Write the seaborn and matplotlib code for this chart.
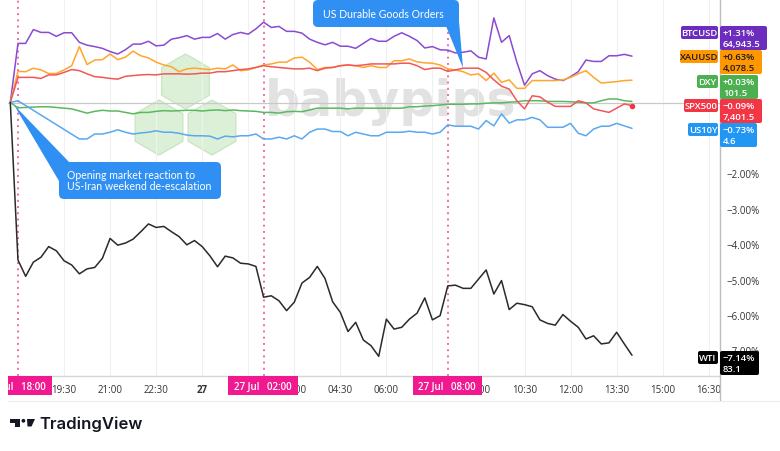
import numpy as np
import pandas as pd
import matplotlib
matplotlib.use("Agg")
import matplotlib.pyplot as plt
from matplotlib.patches import Rectangle, FancyBboxPatch, Polygon, RegularPolygon, Circle
from matplotlib.transforms import Affine2D
import seaborn as sns

nan = np.nan
# ---------------- data ----------------
series_names = ["BTCUSD", "XAUUSD", "DXY", "SPX500", "US10Y", "WTI"]

btc = [0, 1.67, 1.67, 2.06, 1.98, 1.98, 1.87, 1.97, 1.97, 1.70,
       1.62, 1.58, 1.53, 1.44, 1.37, 1.49, 1.65, 1.65, 1.73, 1.60,
       1.62, 1.79, 1.83, 1.89, 1.79, 1.84, 1.84, 1.95, 1.79, 1.92,
       1.98, 1.93, 2.08, 2.27, 2.12, 2.15, 2.01, 2.01, 1.96, 1.79,
       1.70, 1.63, 1.70, 1.59, 1.59, 1.53, 1.67, 1.81, 1.73, 1.73,
       1.87, 1.97, 1.87, 1.75, 1.54, 1.58, 1.49, 1.48, 1.40, 1.42,
       1.46, 1.28, 1.23, 2.39, 1.70, 1.89, 1.14, 0.49, 0.81, 0.90,
       0.76, 0.66, 0.62, 0.73, 0.87, 1.20, 1.16, 1.16, 1.32, 1.32,
       1.36, 1.31]

xau = [0, 0.88, 0.87, 0.97, 0.92, 0.82, 0.82, 0.92, 1.04, 1.58,
       1.07, 1.20, 1.21, 1.37, 1.21, 1.28, 1.45, 1.32, 1.26, 1.14,
       1.06, 1.01, 0.87, 0.95, 0.97, 0.95, 0.93, 0.97, 0.95, 1.06,
       0.90, 0.92, 0.99, 1.06, 1.09, 1.14, 1.14, 1.26, 1.28, 1.14,
       0.93, 0.99, 0.99, 1.04, 1.06, 1.04, 0.99, 1.04, 0.99, 0.99,
       1.18, 1.18, 1.23, 1.15, 1.12, 1.11, 1.06, 0.95, 0.92, 0.87,
       0.78, 0.81, 0.62, 0.83, 0.57, 0.64, 0.40, 0.40, 0.62, 0.62,
       0.62, 0.62, 0.64, 0.71, 0.81, 0.90, 0.71, 0.55, 0.57, 0.59,
       0.62, 0.63]

dxy = [0, -0.15, -0.14, -0.13, -0.12, -0.12, -0.14, -0.16, -0.18, -0.24,
       -0.30, -0.25, -0.22, -0.24, -0.24, -0.28, -0.32, -0.28, -0.28, -0.25,
       -0.23, -0.24, -0.23, -0.22, -0.22, -0.24, -0.22, -0.21, -0.23, -0.21,
       -0.23, -0.24, -0.25, -0.28, -0.28, -0.30, -0.26, -0.25, -0.26, -0.21,
       -0.16, -0.16, -0.16, -0.16, -0.18, -0.16, -0.16, -0.16, -0.16, -0.16,
       -0.16, -0.16, -0.12, -0.12, -0.10, -0.09, -0.07, -0.05, -0.05, -0.05,
       -0.04, -0.04, -0.02, -0.01, -0.01, 0.01, 0.02, 0.05, 0.05, 0.05,
       0.03, 0.03, 0.03, 0.02, 0.01, -0.01, -0.01, 0.05, 0.10, 0.10,
       0.05, 0.03]

spx = [0, 0.71, 0.71, 0.71, 0.68, 0.78, 0.78, 0.85, 0.93, 0.90,
       0.81, 0.73, 0.71, 0.68, 0.66, 0.74, 0.76, 0.78, 0.79, 0.78,
       0.81, 0.81, 0.81, 0.80, 0.81, 0.83, 0.83, 0.87, 0.87, 0.90,
       0.93, 0.95, 0.99, 1.04, 1.01, 0.99, 0.97, 0.95, 0.95, 0.97,
       0.90, 0.97, 0.99, 1.04, 1.06, 1.04, 1.06, 1.09, 1.09, 1.09,
       1.09, 1.11, 1.11, 1.04, 0.93, 0.97, 0.97, 0.88, 0.92, 0.97,
       0.97, 0.97, 0.85, 0.64, 0.46, 0.38, 0.05, -0.18, 0.19, 0.16,
       0.01, -0.11, -0.11, -0.11, 0.05, -0.01, -0.18, -0.23, -0.28, -0.16,
       -0.04, -0.09]

us10y = [0, 0.05, nan, nan, nan, nan, nan, nan, nan, -1.03,
         -1.03, -0.89, -0.89, -0.84, -0.77, -0.84, -0.89, -0.86, -0.84, -0.80,
         -0.84, -0.84, -0.87, -0.92, -0.94, -0.94, -0.95, -1.03, -0.95, -0.97,
         -0.94, -0.94, -0.89, -1.03, -1.03, -0.98, -1.03, -0.94, -1.03, -0.84,
         -0.75, -0.75, -0.82, -0.82, -0.94, -0.84, -0.89, -0.94, -0.94, -0.84,
         -0.84, -0.84, -0.81, -0.84, -0.84, -0.89, -0.84, -0.63, -0.67, -0.67,
         -0.67, -0.75, -0.51, -0.66, -0.32, -0.58, -0.49, -0.49, -0.42, -0.49,
         -0.70, -0.70, -0.70, -0.59, -0.87, -0.94, -0.75, -0.67, -0.67, -0.59,
         -0.66, -0.73]

wti = [0, -4.45, -4.91, -4.51, -4.37, -4.07, -4.19, -4.47, -4.59, -4.84,
       -4.70, -4.66, -4.40, -3.84, -4.03, -3.97, -3.86, -3.65, -3.43, -3.53,
       -3.50, -3.65, -3.79, -4.02, -3.90, -4.07, -4.33, -4.64, -4.34, -4.39,
       -4.54, -4.56, -4.63, -5.50, -5.46, -5.60, -5.88, -5.64, -5.10, -4.94,
       -4.63, -4.97, -5.63, -5.93, -6.47, -6.21, -6.71, -6.87, -7.17, -6.12,
       -6.40, -6.35, -6.12, -5.95, -5.52, -6.14, -6.02, -5.18, -5.16, -5.25,
       -5.25, -4.99, -4.73, -5.41, -5.03, -5.85, -5.67, -5.71, -5.77, -6.14,
       -6.24, -6.29, -5.99, -6.18, -6.35, -6.68, -6.59, -6.82, -6.79, -6.49,
       -6.82, -7.14]

times = pd.date_range("2025-07-26 17:45", periods=len(btc), freq="15min")

tag_pct = ["+1.31%", "+0.63%", "+0.03%", "\u22120.09%", "\u22120.73%", "\u22127.14%"]
tag_price = ["64,943.5", "4,078.5", "101.5", "7,401.5", "4.6", "83.1"]

xtick_times = pd.date_range("2025-07-26 19:30", "2025-07-27 16:30", freq="90min")
xtick_labels = ["19:30", "21:00", "22:30", "27", "", "03:00", "04:30", "06:00",
                "", "09:00", "10:30", "12:00", "13:30", "15:00", "16:30"]
ytick_vals = [-2, -3, -4, -5, -6, -7]
ytick_labels = ["\u22122.00%", "\u22123.00%", "\u22124.00%", "\u22125.00%", "\u22126.00%", "\u22127.00%"]

event_times = pd.to_datetime(["2025-07-26 18:00", "2025-07-27 02:00", "2025-07-27 08:00"])
event_labels = [("26 Jul", "18:00"), ("27 Jul", "02:00"), ("27 Jul", "08:00")]

line_colors = {"BTCUSD": "#8a4ad2", "XAUUSD": "#ffa62b", "DXY": "#5cb85f",
               "SPX500": "#f25757", "US10Y": "#5aa8f0", "WTI": "#2a2a2a"}
tag_colors = ["#6c2dbf", "#ff9800", "#4caf50", "#f23645", "#2196f3", "#000000"]
tag_text = ["white", "#1b1b1b", "white", "white", "white", "white"]

# ---------------- figure ----------------
sns.set_style("white")
plt.rcParams['font.family'] = ['Open Sans', 'DejaVu Sans']

W, H = 780, 452
fig = plt.figure(figsize=(W / 100, H / 100), dpi=100)
fig.patch.set_facecolor("white")
ax = fig.add_axes([8 / W, 1 - 377 / H, 712 / W, 377 / H])
ax.patch.set_alpha(0)
px = Affine2D().scale(1 / W, -1 / H).translate(0, 1) + fig.transFigure

# watermark (behind axes)
for cx, cy in [(185.5, 82.5), (159, 128.5), (212, 128.5)]:
    fig.patches.append(RegularPolygon((cx, cy), numVertices=6, radius=27.5,
                                      transform=px, facecolor="#dcf0d7", edgecolor="#cbe6c4",
                                      lw=1.0, zorder=-2))
fig.text(265 / W, 1 - 116 / H, "babypips", fontsize=35.3, fontweight="bold",
         color="#e2e2e2", family="DejaVu Sans", ha="left", va="baseline", zorder=-1)

# lines
vals = {"BTCUSD": btc, "XAUUSD": xau, "DXY": dxy, "SPX500": spx, "US10Y": us10y, "WTI": wti}
df = pd.concat([pd.DataFrame({"time": times, "series": k, "value": v}) for k, v in vals.items()])
df = df.dropna()
sns.lineplot(data=df, x="time", y="value", hue="series", hue_order=series_names,
             palette=line_colors, linewidth=1.1, legend=False, ax=ax,
             estimator=None, sort=False, zorder=3)
ax.scatter([times[-1]], [spx[-1]], s=9, color="#f23645", zorder=4)

ax.axhline(0, color="#c9c9c9", lw=0.9, zorder=1)
for t in event_times:
    ax.axvline(t, color="#f06aa9", lw=1.4, linestyle=(0, (1, 2.2)), zorder=2)

ax.set_xlim(pd.Timestamp("2025-07-26 17:40:30"), pd.Timestamp("2025-07-27 16:52"))
ax.set_ylim(-7.726, 2.924)
ax.set_xticks(xtick_times)
ax.set_xticklabels(xtick_labels)
ax.yaxis.tick_right()
ax.set_yticks(ytick_vals)
ax.set_yticklabels(ytick_labels)
ax.tick_params(axis="x", length=0, labelsize=7, colors="#333333", pad=6)
ax.tick_params(axis="y", length=0, labelsize=7, colors="#333333", pad=5)
for lab in ax.get_xticklabels():
    if lab.get_text() == "27":
        lab.set_fontweight("bold")
ax.set_xlabel("")
ax.set_ylabel("")
ax.grid(axis="x", color="#f0f0f0", lw=0.8)
ax.grid(axis="y", visible=False)
for s in ["left", "top"]:
    ax.spines[s].set_visible(False)
ax.spines["right"].set_color("#bdbdbd")
ax.spines["bottom"].set_color("#d6d6d6")
ax.spines["right"].set_linewidth(1.0)
ax.spines["bottom"].set_linewidth(1.0)

# frame lines below axis
fig.lines.append(plt.Line2D([720, 720], [377, 402], transform=px, color="#bdbdbd", lw=1.0))
fig.lines.append(plt.Line2D([8, 780], [402, 402], transform=px, color="#ececec", lw=0.8))

# pink event boxes on x-axis
pink = "#f0198f"
for (x0, x1), (d, tm) in zip([(8, 52), (228, 298), (413, 482)], event_labels):
    r = Rectangle((x0, 377), x1 - x0, 19, transform=px, facecolor=pink, edgecolor="none", zorder=5)
    fig.patches.append(r)
    t = fig.text((x1 - 6) / W, 1 - 387 / H, d + "   " + tm, transform=fig.transFigure,
                 ha="right", va="center", fontsize=7, color="white", fontweight="semibold", zorder=6)
    t.set_clip_path(r)

# right-side tags
tag_geom = [(27, 681, 767), (51, 680, 762), (76, 697, 758), (100, 684, 762), (124, 688, 757), (352, 698, 759)]
for i, (yt, nx0, vx1) in enumerate(tag_geom):
    c = tag_colors[i]
    fig.patches.append(FancyBboxPatch((nx0, yt), 718 - nx0, 13, boxstyle="round,pad=0,rounding_size=2",
                                      transform=px, facecolor=c, edgecolor="none", zorder=5))
    fig.patches.append(FancyBboxPatch((720, yt), vx1 - 720, 24, boxstyle="round,pad=0,rounding_size=2",
                                      transform=px, facecolor=c, edgecolor="none", zorder=5))
    fig.text((nx0 + 718) / 2 / W, 1 - (yt + 6.8) / H, series_names[i], ha="center", va="center",
             fontsize=6.8, fontweight="semibold", color=tag_text[i], zorder=6)
    fig.text(723 / W, 1 - (yt + 6.8) / H, tag_pct[i], ha="left", va="center",
             fontsize=6.8, fontweight="semibold", color=tag_text[i], zorder=6)
    fig.text(723 / W, 1 - (yt + 17.5) / H, tag_price[i], ha="left", va="center",
             fontsize=6.8, fontweight="semibold", color=tag_text[i], zorder=6)

# callouts
blue = "#2f8ff2"
fig.patches.append(FancyBboxPatch((313, 1), 146, 27, boxstyle="round,pad=0,rounding_size=5",
                                  transform=px, facecolor=blue, edgecolor="none", zorder=6))
fig.patches.append(Polygon([(446, 27), (459, 22), (463, 69)], closed=True, transform=px,
                           facecolor=blue, edgecolor="none", zorder=6))
fig.text(323 / W, 1 - 14.5 / H, "US Durable Goods Orders", ha="left", va="center",
         fontsize=7.6, color="white", family="Lato", zorder=7)

fig.patches.append(FancyBboxPatch((59, 163), 162, 37, boxstyle="round,pad=0,rounding_size=5",
                                  transform=px, facecolor=blue, edgecolor="none", zorder=6))
fig.patches.append(Polygon([(14, 106), (70, 164), (59, 182)], closed=True, transform=px,
                           facecolor=blue, edgecolor="none", zorder=6))
fig.text(67 / W, 1 - 176 / H, "Opening market reaction to", ha="left", va="center",
         fontsize=7.6, color="white", family="Lato", zorder=7)
fig.text(67 / W, 1 - 186.5 / H, "US-Iran weekend de-escalation", ha="left", va="center",
         fontsize=7.6, color="white", family="Lato", zorder=7)

# TradingView logo
dark = "#131722"
fig.patches.append(Rectangle((10, 420), 10, 3.6, transform=px, facecolor=dark, edgecolor="none"))
fig.patches.append(Rectangle((15, 420), 5, 7.5, transform=px, facecolor=dark, edgecolor="none"))
fig.patches.append(Circle((23.4, 421.8), 1.9, transform=px, facecolor=dark, edgecolor="none"))
fig.patches.append(Polygon([(27, 420), (35, 420), (31.5, 427.5), (27.5, 427.5)], closed=True,
                           transform=px, facecolor=dark, edgecolor="none"))
fig.text(39 / W, 1 - 424 / H, "TradingView", ha="left", va="center", fontsize=12,
         fontweight="semibold", color=dark, family="Inter")

fig.savefig("out.png", dpi=100)
